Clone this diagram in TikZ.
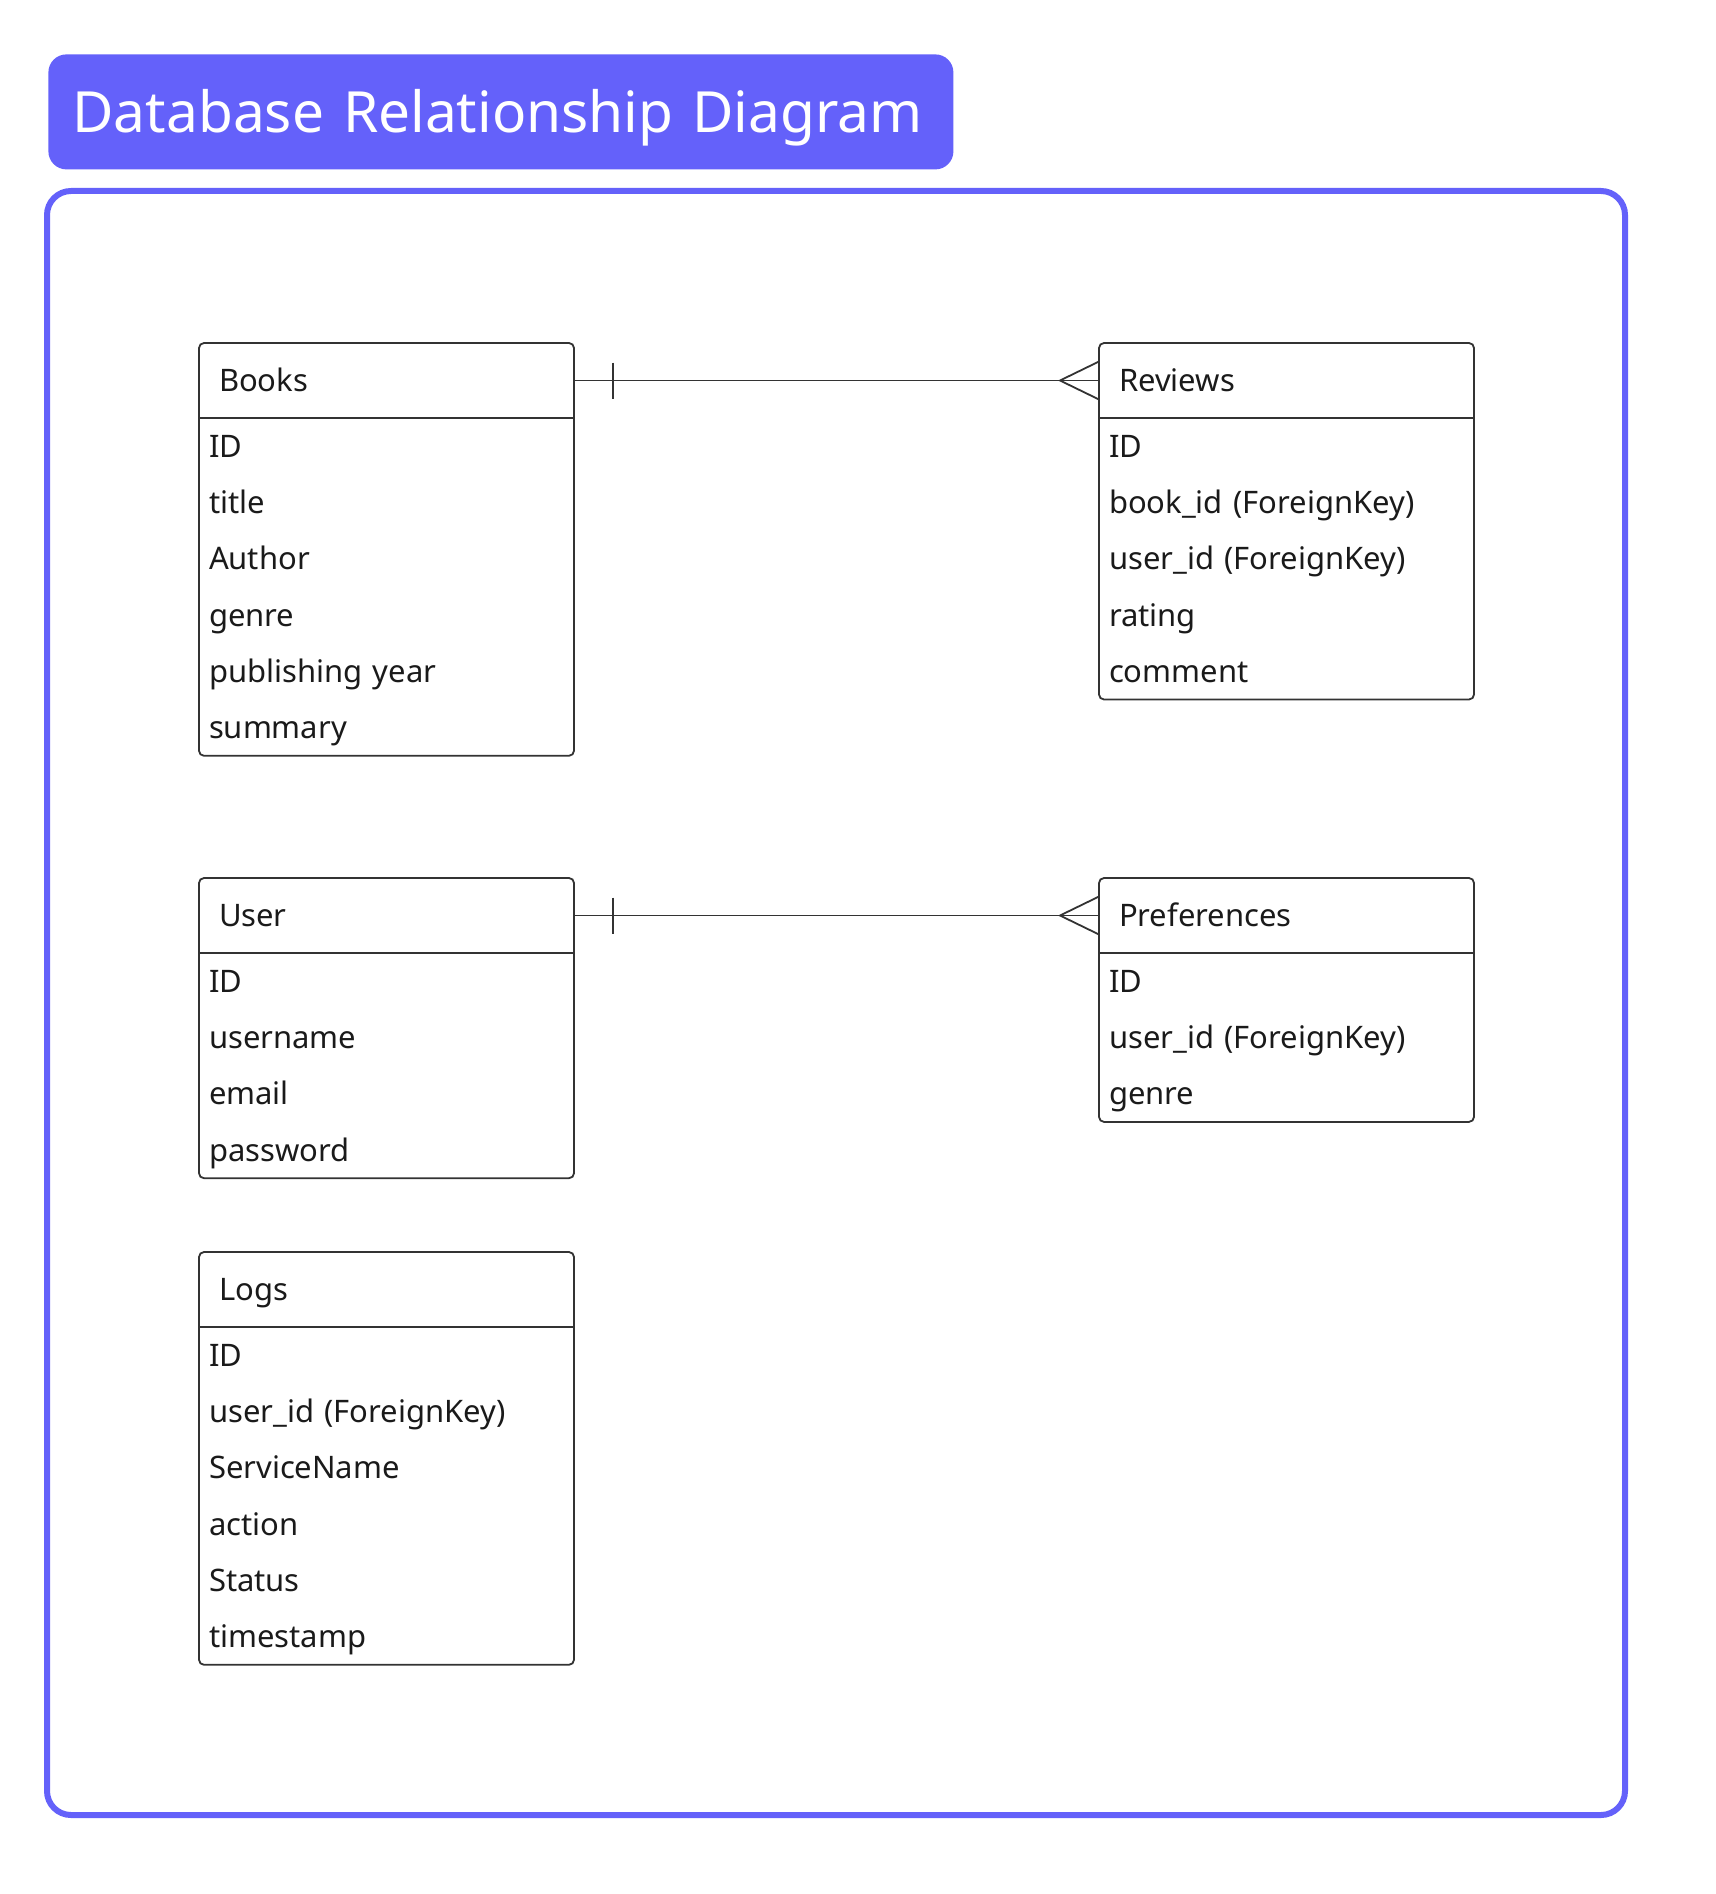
\documentclass[tikz,border=0pt]{standalone}
\usepackage{fontspec}
\setmainfont{Noto Sans}
\usepackage{tikz}
\usetikzlibrary{positioning, calc}
\definecolor{erdpurple}{HTML}{6461FA}
\definecolor{erdline}{HTML}{333333}
\definecolor{erdtext}{HTML}{1A1A1A}

\begin{document}
\begin{tikzpicture}[
    x=0.5pt, y=-0.5pt,
    node distance=0pt,
    banner/.style={
      rectangle, rounded corners=9pt, fill=erdpurple, text=white,
      font=\fontsize{28.4}{34}\selectfont, anchor=north west,
      text width=428.5pt, inner xsep=12pt, inner ysep=0pt,
      minimum height=57.5pt, align=left,
      text height=27.3pt, text depth=7pt
    },
    frame/.style={draw=erdpurple, line width=3pt, rounded corners=12pt},
    tblhead/.style={
      rectangle, anchor=north west, outer sep=0pt, text=erdtext,
      font=\fontsize{15.5}{19}\selectfont, text width=167.5pt,
      inner xsep=10pt, inner ysep=0pt, minimum height=37.5pt,
      text height=15.1pt, text depth=4pt, align=left
    },
    field/.style={
      rectangle, outer sep=0pt, text=erdtext,
      font=\fontsize{15.5}{19}\selectfont, text width=177.5pt,
      inner xsep=5pt, inner ysep=0pt, minimum height=28.15pt,
      text height=15.1pt, text depth=4pt, align=left
    },
    tbl/.style={draw=erdline, line width=0.9pt, rounded corners=2.5pt},
    sep/.style={draw=erdline, line width=0.8pt},
    rel/.style={draw=erdline, line width=0.9pt},
  ]
  \useasboundingbox (0,0) rectangle (1716,1894);

  \node[banner] (title) at (48,54) {\mbox{Database Relationship Diagram}};
  \draw[frame] (47,191) rectangle (1625,1815);

  % Books
  \node[tblhead] (books) at (199,343) {Books};
  \node[field, below=of books] (books-id) {ID};
  \node[field, below=of books-id] (books-title) {title};
  \node[field, below=of books-title] (books-author) {Author};
  \node[field, below=of books-author] (books-genre) {genre};
  \node[field, below=of books-genre] (books-year) {publishing year};
  \node[field, below=of books-year] (books-summary) {summary};
  \draw[tbl] (books.north west) rectangle (books-summary.south east);
  \draw[sep] (books.south west) -- (books.south east);

  % Reviews
  \node[tblhead] (reviews) at (1099,343) {Reviews};
  \node[field, below=of reviews] (reviews-id) {ID};
  \node[field, below=of reviews-id] (reviews-book) {book\_id (ForeignKey)};
  \node[field, below=of reviews-book] (reviews-user) {user\_id (ForeignKey)};
  \node[field, below=of reviews-user] (reviews-rating) {rating};
  \node[field, below=of reviews-rating] (reviews-comment) {comment};
  \draw[tbl] (reviews.north west) rectangle (reviews-comment.south east);
  \draw[sep] (reviews.south west) -- (reviews.south east);

  % User
  \node[tblhead] (user) at (199,878) {User};
  \node[field, below=of user] (user-id) {ID};
  \node[field, below=of user-id] (user-name) {username};
  \node[field, below=of user-name] (user-email) {email};
  \node[field, below=of user-email] (user-pass) {password};
  \draw[tbl] (user.north west) rectangle (user-pass.south east);
  \draw[sep] (user.south west) -- (user.south east);

  % Preferences
  \node[tblhead] (prefs) at (1099,878) {Preferences};
  \node[field, below=of prefs] (prefs-id) {ID};
  \node[field, below=of prefs-id] (prefs-user) {user\_id (ForeignKey)};
  \node[field, below=of prefs-user] (prefs-genre) {genre};
  \draw[tbl] (prefs.north west) rectangle (prefs-genre.south east);
  \draw[sep] (prefs.south west) -- (prefs.south east);

  % Logs
  \node[tblhead] (logs) at (199,1252) {Logs};
  \node[field, below=of logs] (logs-id) {ID};
  \node[field, below=of logs-id] (logs-user) {user\_id (ForeignKey)};
  \node[field, below=of logs-user] (logs-service) {ServiceName};
  \node[field, below=of logs-service] (logs-action) {action};
  \node[field, below=of logs-action] (logs-status) {Status};
  \node[field, below=of logs-status] (logs-time) {timestamp};
  \draw[tbl] (logs.north west) rectangle (logs-time.south east);
  \draw[sep] (logs.south west) -- (logs.south east);

  % relations: one to many
  \draw[rel] (books.east) -- (reviews.west);
  \draw[rel] ($(books.east)+(39,-18)$) -- ($(books.east)+(39,18)$);
  \draw[rel] ($(reviews.west)+(0,-19)$) -- ($(reviews.west)+(-39,0)$) -- ($(reviews.west)+(0,19)$);

  \draw[rel] (user.east) -- (prefs.west);
  \draw[rel] ($(user.east)+(39,-18)$) -- ($(user.east)+(39,18)$);
  \draw[rel] ($(prefs.west)+(0,-19)$) -- ($(prefs.west)+(-39,0)$) -- ($(prefs.west)+(0,19)$);
\end{tikzpicture}
\end{document}
